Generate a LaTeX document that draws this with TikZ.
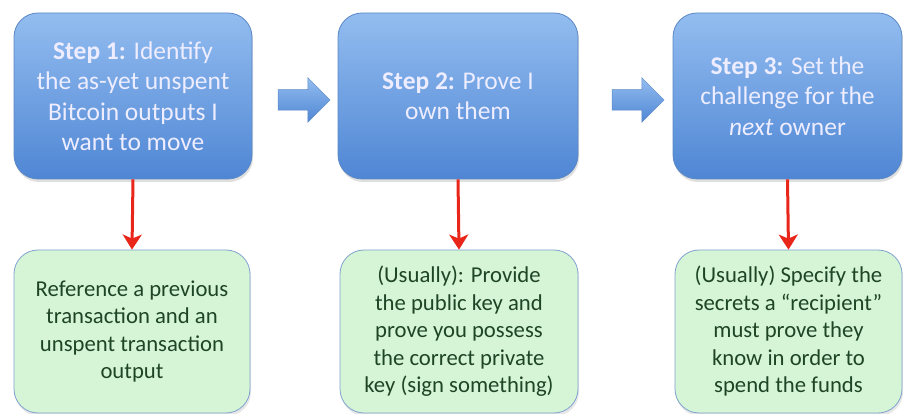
\documentclass[tikz,border=0pt]{standalone}
\usepackage{fontspec}
\setmainfont{Carlito}
\usetikzlibrary{shapes.arrows, arrows.meta, shadows}

\definecolor{steptop}{HTML}{93BDF0}
\definecolor{stepbot}{HTML}{4F86D4}
\definecolor{stepline}{HTML}{5B88C4}
\definecolor{notefill}{HTML}{D6F5D6}
\definecolor{noteline}{HTML}{7FA2CF}
\definecolor{notetext}{HTML}{1E4526}
\definecolor{downred}{HTML}{E8261A}

\begin{document}
\begin{tikzpicture}[x=1pt, y=-1pt,
		stepbox/.style={shape=rectangle, rounded corners=24pt, draw=stepline, line width=0.8pt,
			top color=steptop, bottom color=stepbot, text=white!93!blue, align=center,
			font=\fontsize{25.5}{30.5}\selectfont, minimum height=166pt, inner sep=0pt,
			drop shadow={shadow xshift=1pt, shadow yshift=-3pt, opacity=0.25}},
		notebox/.style={shape=rectangle, rounded corners=24pt, draw=noteline, line width=0.8pt,
			fill=notefill, text=notetext, align=center,
			font=\fontsize{22.7}{27.5}\selectfont, minimum height=163pt, inner sep=0pt,
			drop shadow={shadow xshift=1pt, shadow yshift=-3pt, opacity=0.2}},
		blockarrow/.style={single arrow, draw=stepline, line width=0.5pt,
			top color=steptop, bottom color=stepbot, minimum height=52pt,
			single arrow head extend=12pt, inner xsep=0pt, inner ysep=10pt},
		downarrow/.style={-{Stealth[length=15pt, width=19pt, inset=4pt]}, downred, line width=3pt}]
		\useasboundingbox (0,0) rectangle (903,414);

		\node[stepbox, minimum width=238pt] (S1) at (133,96){\textbf{Step 1:} Identify\\the as-yet unspent\\Bitcoin outputs I\\want to move};
		\node[stepbox, minimum width=240pt] (S2) at (458,96){\textbf{Step 2:} Prove I\\own them};
		\node[stepbox, minimum width=229pt] (S3) at (787.5,96){\textbf{Step 3:} Set the\\challenge for the\\\textit{next} owner};

		\node[notebox, minimum width=236pt] (N1) at (132,331.5){Reference a previous\\transaction and an\\unspent transaction\\output};
		\node[notebox, minimum width=238pt] (N2) at (459,331.5){(Usually): Provide\\the public key and\\prove you possess\\the correct private\\key (sign something)};
		\node[notebox, minimum width=227pt] (N3) at (788.5,331.5){(Usually) Specify the\\secrets a “recipient”\\must prove they\\know in order to\\spend the funds};

		\node[blockarrow] (A1) at (299,100){};
		\node[blockarrow] (A2) at (633,100){};

		\path [downarrow] (S1.south) edge (N1.north);
		\path [downarrow] (S2.south) edge (N2.north);
		\path [downarrow] (S3.south) edge (N3.north);
\end{tikzpicture}
\end{document}
